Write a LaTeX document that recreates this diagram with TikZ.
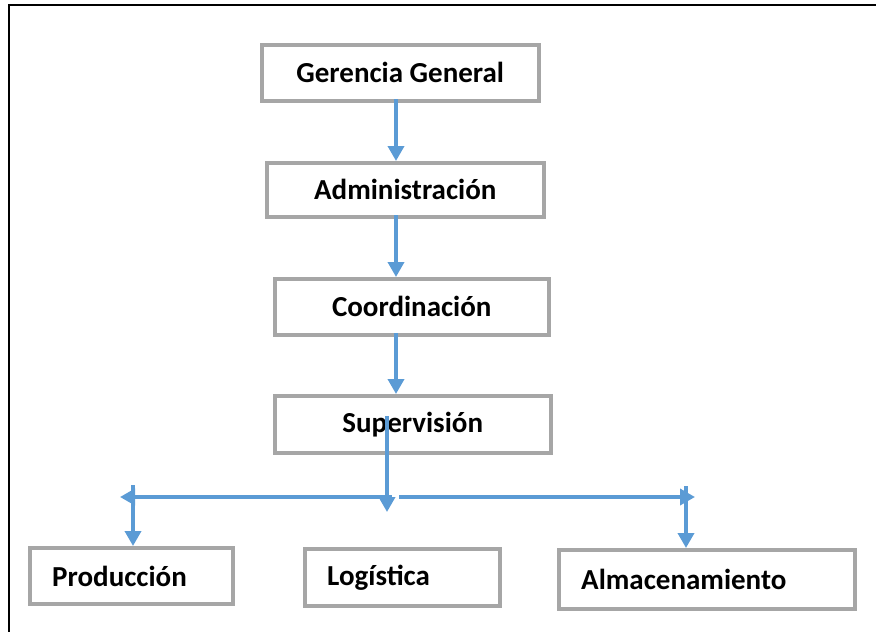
\documentclass[tikz,border=0pt]{standalone}
\usepackage{fontspec}
\setmainfont{Carlito}
\usetikzlibrary{arrows.meta,positioning,calc}
\definecolor{boxgray}{HTML}{A6A6A6}
\definecolor{arrowblue}{HTML}{5B9BD5}
\tikzset{
  orgbox/.style={draw=boxgray, line width=3.5pt, fill=white, inner sep=0pt,
    font=\fontsize{29}{34}\selectfont\bfseries, anchor=north west},
  cbox/.style={orgbox, align=center},
  boxtext/.style={anchor=west, font=\fontsize{29}{34}\selectfont\bfseries, inner sep=0pt},
  conn/.style={draw=arrowblue, line width=3.6pt, -{Triangle[length=15pt,width=16pt]}}
}
\begin{document}
\begin{tikzpicture}[x=1pt,y=-1pt]
\useasboundingbox (0,0) rectangle (876,632);
% outer frame
\draw[line width=2.5pt, black] (9,632) -- (9,5) -- (876,5);
% boxes
\node[cbox, minimum width=277pt, minimum height=56pt] (gg) at (260,43) {Gerencia General};
\node[cbox, minimum width=277pt, minimum height=54pt] (adm) at (265,161) {Administración};
\node[cbox, minimum width=274pt, minimum height=56pt] (coo) at (273,277) {Coordinación};
\node[cbox, minimum width=276pt, minimum height=57pt] (sup) at (273,394) {Supervisión};
\node[orgbox, minimum width=203pt, minimum height=56pt] (pro) at (28,546) {};
\node[boxtext] (protx) at (52,576) {Producción};
\node[orgbox, minimum width=195pt, minimum height=57pt] (log) at (303,547) {};
\node[boxtext] (logtx) at (327,578) {Logística};
\node[orgbox, minimum width=296pt, minimum height=59pt] (alm) at (557,548) {};
\node[boxtext] (almtx) at (581,579) {Almacenamiento};
% vertical chain
\coordinate (a1s) at (396,99);
\coordinate (a2s) at (396,215);
\coordinate (a3s) at (396,333);
\draw[conn] (a1s) -- (a1s |- adm.north);
\draw[conn] (a2s) -- (a2s |- coo.north);
\draw[conn] (a3s) -- (a3s |- sup.north);
% branches
\coordinate (vs) at (387,416);
\coordinate (vt) at (387,512);
\coordinate (hl1) at (392,497);
\coordinate (hl2) at (120,497);
\coordinate (hr1) at (399,497);
\coordinate (hr2) at (695,497);
\coordinate (pl) at (133,485);
\coordinate (al) at (686,486);
\draw[conn] (hl1) -- (hl2);
\draw[conn] (hr1) -- (hr2);
\draw[conn] (vs) -- (vt);
\draw[conn] (pl) -- (pl |- pro.north);
\draw[conn] (al) -- (al |- alm.north);
\end{tikzpicture}
\end{document}
